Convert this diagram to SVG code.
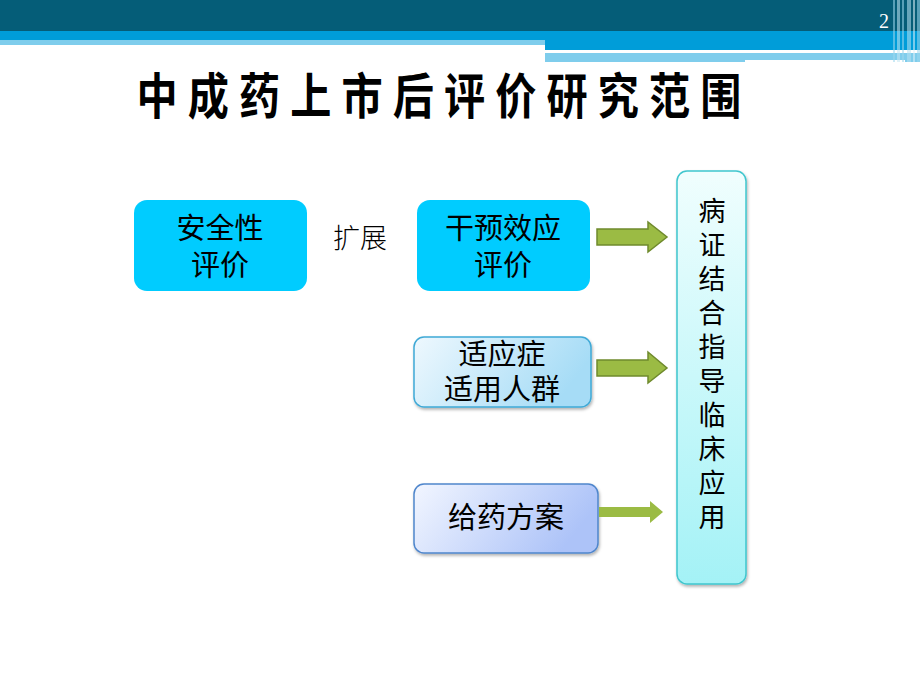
<svg xmlns="http://www.w3.org/2000/svg" width="920" height="690" viewBox="0 0 920 690">
<defs>
<style>
.cjk{font-family:"Noto Sans CJK SC","Liberation Sans",sans-serif;fill:#000;}
.lbl{font-size:29px;text-anchor:middle;}
.v{font-size:27px;text-anchor:middle;}
.arrow{fill:#9BBB44;stroke:#6F8A2C;stroke-width:1.5;}
</style>
<linearGradient id="gBlue" x1="0" y1="0" x2="1" y2="0.3">
<stop offset="0" stop-color="#EEF8FE"/><stop offset="1" stop-color="#A6DCF6"/>
</linearGradient>
<linearGradient id="gViolet" x1="0" y1="0" x2="1" y2="0.3">
<stop offset="0" stop-color="#F2F6FF"/><stop offset="1" stop-color="#ADC3F8"/>
</linearGradient>
<linearGradient id="gCyan" x1="0" y1="0" x2="0" y2="1">
<stop offset="0" stop-color="#F0FEFE"/><stop offset="1" stop-color="#A4F2F6"/>
</linearGradient>
<filter id="sh" x="-10%" y="-10%" width="130%" height="130%">
<feDropShadow dx="1" dy="2" stdDeviation="1.5" flood-color="#000" flood-opacity="0.3"/>
</filter>
</defs>
<rect width="920" height="690" fill="#fff"/>
<g id="header">
<rect x="0" y="0" width="920" height="31" fill="#055D78"/>
<rect x="0" y="31" width="920" height="14" fill="#009DD9"/>
<rect x="0" y="40" width="545" height="5" fill="#7FCDEC"/>
<rect x="545" y="45" width="375" height="5" fill="#009DD9"/>
<rect x="545" y="50" width="307" height="3" fill="#fff"/>
<rect x="545" y="53" width="375" height="9" fill="#7FCDEC"/>
<rect x="745" y="60" width="160" height="2" fill="#fff"/>
<g opacity="0.55">
<rect x="893" y="0" width="2" height="62" fill="#9DD8EE"/>
<rect x="897" y="0" width="3" height="62" fill="#C6E8F4"/>
<rect x="902" y="0" width="2" height="62" fill="#9DD8EE"/>
<rect x="907" y="0" width="4" height="62" fill="#B8E2F2"/>
<rect x="913" y="0" width="2" height="62" fill="#E0F3FA"/>
<rect x="917" y="0" width="3" height="62" fill="#9DD8EE"/>
</g>
<text x="884" y="28" font-family="Liberation Serif, serif" font-size="20" fill="#fff" text-anchor="middle">2</text>
</g>
<g id="title">
<text class="cjk" transform="translate(444,114) scale(0.84,1)" font-size="49" font-weight="bold" text-anchor="middle" letter-spacing="12">中成药上市后评价研究范围</text>
</g>
<g id="node-safety">
<rect x="134" y="200" width="173" height="91" rx="13" fill="#00CCFF"/>
<text class="cjk lbl" x="220" y="239">安全性</text>
<text class="cjk lbl" x="220" y="276">评价</text>
</g>
<g id="label-expand">
<text class="cjk" x="360" y="248" font-size="27" text-anchor="middle" font-weight="300">扩展</text>
</g>
<g id="node-intervention">
<rect x="417" y="200" width="173" height="91" rx="13" fill="#00CCFF"/>
<text class="cjk lbl" x="503" y="239">干预效应</text>
<text class="cjk lbl" x="503" y="276">评价</text>
</g>
<g id="node-indication">
<rect x="414" y="337" width="177" height="70" rx="10" fill="url(#gBlue)" stroke="#3FA9D6" stroke-width="1.5" filter="url(#sh)"/>
<text class="cjk lbl" x="502" y="365">适应症</text>
<text class="cjk lbl" x="502" y="400">适用人群</text>
</g>
<g id="node-dosage">
<rect x="414" y="484" width="184" height="69" rx="10" fill="url(#gViolet)" stroke="#4F86CC" stroke-width="1.5" filter="url(#sh)"/>
<text class="cjk lbl" x="506" y="528">给药方案</text>
</g>
<g id="node-clinical">
<rect x="677" y="171" width="69" height="413" rx="10" fill="url(#gCyan)" stroke="#3FC6CE" stroke-width="1.5" filter="url(#sh)"/>
<text class="cjk v" x="712" y="221">病</text>
<text class="cjk v" x="712" y="255">证</text>
<text class="cjk v" x="712" y="289">结</text>
<text class="cjk v" x="712" y="323">合</text>
<text class="cjk v" x="712" y="357">指</text>
<text class="cjk v" x="712" y="391">导</text>
<text class="cjk v" x="712" y="425">临</text>
<text class="cjk v" x="712" y="459">床</text>
<text class="cjk v" x="712" y="493">应</text>
<text class="cjk v" x="712" y="527">用</text>
</g>
<g id="connectors">
<polygon class="arrow" points="597,229 648,229 648,222 667,237 648,252 648,245 597,245"/>
<polygon class="arrow" points="597,360 648,360 648,352 667,368 648,383 648,376 597,376"/>
<polygon fill="#9BBB44" points="599,507 650,507 650,501 663,512 650,523 650,517 599,517"/>
</g>
</svg>
